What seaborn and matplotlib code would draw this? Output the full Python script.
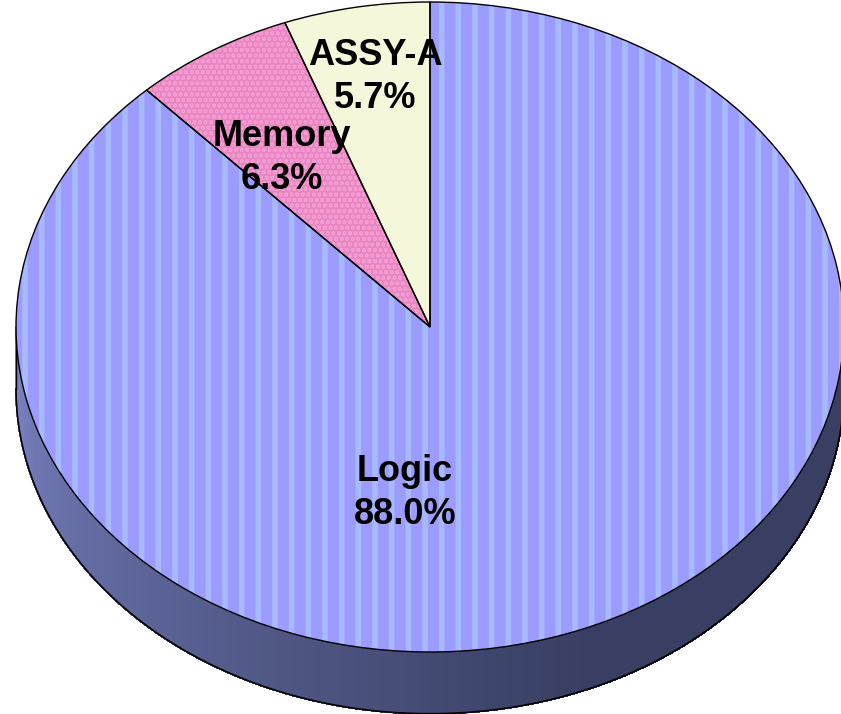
import numpy as np
import matplotlib
matplotlib.use("Agg")
import matplotlib.pyplot as plt
import seaborn as sns
from matplotlib.collections import PolyCollection
from matplotlib.colors import to_rgb

# Data
categories = ["ASSY-A", "Memory", "Logic"]
shares = [5.7, 6.3, 88.0]
fill_colors = ["#f4f7da", "#f89fd3", "#9c9cff"]
hatch_colors = ["#f4f7da", "#e786c2", "#a8baff"]
hatches = [None, "...", "|"]

sns.set_theme(style="white")
plt.rcParams['font.family'] = ['Liberation Sans', 'DejaVu Sans']
plt.rcParams['hatch.linewidth'] = 4.0

fig = plt.figure(figsize=(8.41, 7.14), dpi=100)
ax = fig.add_axes([0, 0, 1, 1])

depth = 0.19

# 3D side (front half of the cylinder)
t = np.linspace(np.pi, 2 * np.pi, 200)
c_left = np.array(to_rgb("#8088cc"))
c_dark = np.array(to_rgb("#383f62"))
polys, cols = [], []
for a, b in zip(t[:-1], t[1:]):
    polys.append([(np.cos(a), np.sin(a)), (np.cos(b), np.sin(b)),
                  (np.cos(b), np.sin(b) - depth), (np.cos(a), np.sin(a) - depth)])
    f = np.clip((a - np.pi) / (0.62 * np.pi), 0, 1) ** 0.8
    cols.append(c_left * (1 - f) + c_dark * f)
ax.add_collection(PolyCollection(polys, facecolors=cols, edgecolors="face",
                                 linewidths=0.8, antialiased=False, zorder=1))
ax.plot(np.cos(t), np.sin(t) - depth, color="black", lw=1.2, zorder=2)
ax.plot([-1, -1], [0, -depth], color="black", lw=1.0, zorder=2)
ax.plot([1, 1], [0, -depth], color="black", lw=1.0, zorder=2)

# Top of the pie: hatched fills, then black outlines
wedges, _ = ax.pie(shares, colors=fill_colors, startangle=90, counterclock=True,
                   radius=1, center=(0, 0), frame=True,
                   wedgeprops=dict(linewidth=0))
for w, h, hc in zip(wedges, hatches, hatch_colors):
    w.set_zorder(3)
    if h:
        w.set_hatch(h)
        w.set_edgecolor(hc)
        w.set_linewidth(0)
outline, _ = ax.pie(shares, startangle=90, counterclock=True, radius=1,
                    center=(0, 0), frame=True,
                    wedgeprops=dict(fill=False, edgecolor="black", linewidth=1.0))
for w in outline:
    w.set_zorder(4)

# Labels
label_pos = [(-0.133, 0.77), (-0.357, 0.52), (-0.06, -0.512)]
for name, val, (x, y) in zip(categories, shares, label_pos):
    ax.text(x, y, f"{name}\n{val:.1f}%", ha="center", va="center", color="black",
            fontsize=26, fontweight="bold", linespacing=1.3, zorder=5)

ax.set_aspect("auto")
ax.set_xlim(-430 / 414, (841 - 430) / 414)
ax.set_ylim((327 - 714) / 325, 327 / 325)
ax.axis("off")

fig.savefig("out.png", dpi=100)
